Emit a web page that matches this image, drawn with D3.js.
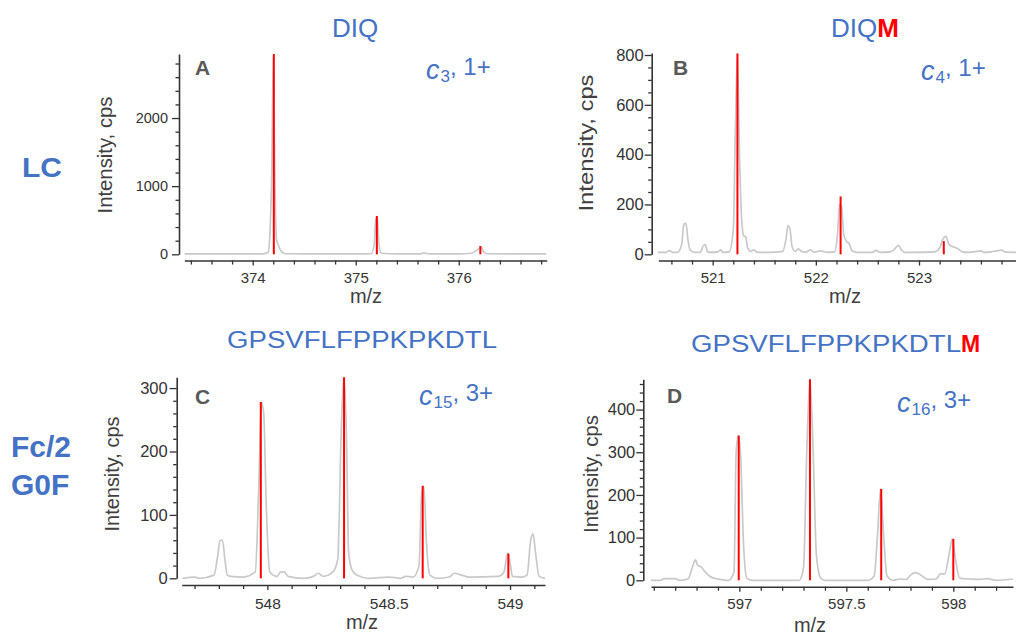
<!DOCTYPE html>
<html><head><meta charset="utf-8">
<script src="https://cdn.jsdelivr.net/npm/d3@7"></script>
<style>
body{margin:0;background:#fff}
svg{display:block}
text{font-family:"Liberation Sans",Arial,Helvetica,sans-serif}
</style>
</head><body>
<svg id="chart" width="1016" height="635"></svg>
<script>
// ---------- data (m/z, intensity) ----------
const profileA = [[373.34,5],[373.6,5],[373.9,5],[374.1,6],[374.15,30],[374.17,400],[374.185,1200],[374.2,2900],[374.215,1200],[374.23,220],[374.25,130],[374.28,40],[374.32,8],[374.6,5],[375.0,5],[375.15,8],[375.18,150],[375.195,520],[375.21,540],[375.225,150],[375.25,15],[375.4,5],[375.63,6],[375.66,22],[375.7,8],[376.0,5],[376.12,15],[376.16,45],[376.2,85],[376.22,100],[376.24,40],[376.28,8],[376.5,5],[376.85,5]];
const sticksA = [[374.205,2940],[375.205,563],[376.21,122]];

const profileB = [[520.47,8],[520.55,8],[520.58,15],[520.61,8],[520.66,8],[520.7,40],[520.72,120],[520.74,125],[520.76,60],[520.78,18],[520.82,8],[520.88,8],[520.91,35],[520.93,38],[520.95,10],[521.0,8],[521.05,10],[521.08,18],[521.1,8],[521.16,10],[521.2,100],[521.22,500],[521.24,800],[521.26,400],[521.28,150],[521.3,75],[521.32,70],[521.34,25],[521.37,12],[521.4,18],[521.43,8],[521.55,8],[521.68,12],[521.71,60],[521.73,115],[521.75,100],[521.77,30],[521.8,12],[521.83,22],[521.86,12],[521.9,8],[521.95,18],[521.98,8],[522.05,14],[522.1,8],[522.18,10],[522.21,80],[522.23,200],[522.25,190],[522.27,80],[522.3,50],[522.32,45],[522.35,14],[522.4,8],[522.55,8],[522.58,16],[522.62,8],[522.72,10],[522.76,20],[522.8,36],[522.83,18],[522.86,8],[522.95,8],[523.15,10],[523.2,25],[523.23,60],[523.26,73],[523.29,40],[523.33,30],[523.37,24],[523.42,10],[523.48,8],[523.6,14],[523.63,8],[523.7,10],[523.75,14],[523.8,17],[523.83,10],[523.94,8]];
const sticksB = [[521.24,806],[522.24,232],[523.24,53]];

const profileC = [[547.65,0],[547.7,2],[547.72,0],[547.78,5],[547.795,35],[547.805,60],[547.815,60],[547.825,30],[547.835,5],[547.85,3],[547.9,2],[547.95,10],[547.965,150],[547.975,278],[547.985,260],[547.995,120],[548.01,10],[548.04,3],[548.055,10],[548.07,10],[548.085,3],[548.15,0],[548.19,3],[548.21,8],[548.23,3],[548.27,10],[548.29,30],[548.305,240],[548.315,317],[548.325,240],[548.335,40],[548.35,12],[548.37,5],[548.42,0],[548.5,2],[548.55,0],[548.57,3],[548.6,2],[548.625,20],[548.635,130],[548.645,145],[548.655,60],[548.67,5],[548.7,0],[548.75,2],[548.77,8],[548.8,5],[548.83,2],[548.95,3],[548.975,10],[548.99,40],[549.0,25],[549.01,3],[549.05,2],[549.07,5],[549.085,60],[549.095,70],[549.105,40],[549.12,3],[549.144,0]];
const sticksC = [[547.973,278],[548.316,317],[548.64,146],[548.993,39]];

const profileD = [[596.587,0],[596.63,0],[596.65,4],[596.7,4],[596.72,0],[596.76,3],[596.78,30],[596.795,48],[596.805,35],[596.82,32],[596.84,20],[596.86,10],[596.88,5],[596.9,3],[596.95,0],[596.975,20],[596.985,300],[596.995,339],[597.005,300],[597.02,80],[597.035,5],[597.06,0],[597.28,0],[597.3,30],[597.315,300],[597.33,471],[597.345,300],[597.36,60],[597.38,5],[597.4,0],[597.6,0],[597.63,10],[597.645,100],[597.66,214],[597.675,100],[597.69,10],[597.72,0],[597.75,3],[597.78,2],[597.8,12],[597.82,18],[597.84,15],[597.86,8],[597.88,2],[597.92,3],[597.94,15],[597.96,15],[597.98,60],[597.995,97],[598.01,50],[598.03,5],[598.08,3],[598.12,2],[598.16,4],[598.2,0],[598.279,3]];
const sticksD = [[596.997,339],[597.33,471],[597.663,214],[598.0,97]];

const xTicksA = [374,375,376], yTicksA = [0,1000,2000];
const xTicksB = [521,522,523], yTicksB = [0,200,400,600,800];
const xTicksC = [548,548.5,549], yTicksC = [0,100,200,300];
const xTicksD = [597,597.5,598], yTicksD = [0,100,200,300,400];

const panelLetters = ["A","B","C","D"];
const ionLabels = [["c","3",", 1+"],["c","4",", 1+"],["c","15",", 3+"],["c","16",", 3+"]];

// ---------- layout ----------
const BLUE = "#4472C4", RED = "#FF0000", AX = "#333333";
const svg = d3.select("#chart");

const panels = [
 {profile:profileA, sticks:sticksA, xT:xTicksA, yT:yTicksA, xDom:[373.336,376.854], yDom:[0,2940],
  xR:[184.3,546.7], yR:[254.3,54], yAxisX:179, xAxisY:260.5, xMinor:0.2, yMinor:200, yPad:4, yFs:14.5, xFs:15, xPad:7,
  letter:[195,75], ion:[426,75], ylab:[112,155,117], xlab:[366,303]},
 {profile:profileB, sticks:sticksB, xT:xTicksB, yT:yTicksB, xDom:[520.473,523.94], yDom:[0,808],
  xR:[658.3,1016], yR:[254.3,53], yAxisX:651.7, xAxisY:260.5, xMinor:0.2, yMinor:50, yPad:1, yFs:16.5, xFs:15, xPad:7,
  letter:[673,75], ion:[921,76], ylab:[593,143,137], xlab:[845,303]},
 {profile:profileC, sticks:sticksC, xT:xTicksC, yT:yTicksC, xDom:[547.647,549.144], yDom:[0,317],
  xR:[181.7,545], yR:[578.3,377.3], yAxisX:176.7, xAxisY:585, xMinor:0.1, yMinor:20, yPad:2, yFs:16.5, xFs:15.5, xPad:8,
  letter:[195,404], ion:[419,401], ylab:[119,474,115], xlab:[362,629]},
 {profile:profileD, sticks:sticksD, xT:xTicksD, yT:yTicksD, xDom:[596.587,598.279], yDom:[0,471],
  xR:[651,1013], yR:[580.3,379.3], yAxisX:643.3, xAxisY:586.7, xMinor:0.1, yMinor:20, yPad:1, yFs:16.5, xFs:15, xPad:7,
  letter:[667,403], ion:[897,408], ylab:[598,474,118], xlab:[810,632]}
];

function minorVals(d0, d1, step, majors){
  const out = [];
  const start = Math.ceil(d0/step - 1e-9);
  for (let k = start; k*step <= d1 + 1e-9; k++){
    const v = +(k*step).toFixed(6);
    if (!majors.some(m => Math.abs(m - v) < 1e-6)) out.push(v);
  }
  return out;
}

panels.forEach((p, i) => {
  const x = d3.scaleLinear().domain(p.xDom).range(p.xR);
  const y = d3.scaleLinear().domain(p.yDom).range(p.yR);
  const g = svg.append("g");

  // profile
  const line = d3.line().x(d => x(d[0])).y(d => y(d[1])).curve(d3.curveMonotoneX);
  g.append("path").datum(p.profile).attr("d", line)
    .attr("fill","none").attr("stroke","#C9C9C9").attr("stroke-width",1.7);

  // sticks
  g.selectAll("line.stick").data(p.sticks).join("line").attr("class","stick")
    .attr("x1", d => x(d[0])).attr("x2", d => x(d[0]))
    .attr("y1", y(0)).attr("y2", d => y(d[1]))
    .attr("stroke", RED).attr("stroke-width", 2);

  // x axis
  const xg = g.append("g").attr("transform", `translate(0,${p.xAxisY})`);
  xg.call(d3.axisBottom(x).tickValues(minorVals(p.xDom[0], p.xDom[1], p.xMinor, p.xT)).tickSize(4).tickFormat("").tickSizeOuter(0));
  xg.call(g2 => g2.select(".domain").remove());
  const xg2 = g.append("g").attr("transform", `translate(0,${p.xAxisY})`);
  xg2.call(d3.axisBottom(x).tickValues(p.xT).tickSize(5).tickSizeOuter(0).tickPadding(p.xPad).tickFormat(d => String(d)));
  [xg, xg2].forEach(a => {
    a.selectAll("line").attr("stroke", AX).attr("stroke-width", 1.3);
    a.selectAll(".domain").attr("stroke", AX).attr("stroke-width", 1.6);
    a.selectAll("text").attr("fill", AX).attr("font-size", p.xFs)
      .attr("font-family", '"Liberation Sans",Arial,sans-serif');
  });

  // y axis
  const yg = g.append("g").attr("transform", `translate(${p.yAxisX},0)`);
  yg.call(d3.axisLeft(y).tickValues(minorVals(p.yDom[0], p.yDom[1], p.yMinor, p.yT)).tickSize(3.5).tickFormat("").tickSizeOuter(0));
  yg.call(g2 => g2.select(".domain").remove());
  const yg2 = g.append("g").attr("transform", `translate(${p.yAxisX},0)`);
  yg2.call(d3.axisLeft(y).tickValues(p.yT).tickSize(7).tickSizeOuter(0).tickPadding(p.yPad).tickFormat(d3.format("d")));
  [yg, yg2].forEach(a => {
    a.selectAll("line").attr("stroke", AX).attr("stroke-width", 1.3);
    a.selectAll(".domain").attr("stroke", AX).attr("stroke-width", 1.6);
    a.selectAll("text").attr("fill", AX).attr("font-size", p.yFs)
      .attr("font-family", '"Liberation Sans",Arial,sans-serif');
  });

  // axis titles
  g.append("text").attr("transform", `translate(${p.ylab[0]},${p.ylab[1]}) rotate(-90)`)
    .attr("text-anchor","middle").attr("font-size", 20).attr("fill", "#404040")
    .attr("textLength", p.ylab[2]).attr("lengthAdjust","spacingAndGlyphs")
    .text("Intensity, cps");
  g.append("text").attr("x", p.xlab[0]).attr("y", p.xlab[1])
    .attr("text-anchor","middle").attr("font-size", 20).attr("fill", "#404040")
    .text("m/z");

  // panel letter
  g.append("text").attr("x", p.letter[0]).attr("y", p.letter[1])
    .attr("font-size", 21).attr("font-weight","bold").attr("fill", "#595959")
    .text(panelLetters[i]);

  // ion label
  const t = g.append("text").attr("x", p.ion[0]).attr("y", p.ion[1]).attr("fill", BLUE);
  t.append("tspan").attr("font-style","italic").attr("font-size", 27).attr("dy", 4).text(ionLabels[i][0]);
  t.append("tspan").attr("font-size", 17).attr("dy", 3).attr("dx", 1).text(ionLabels[i][1]);
  t.append("tspan").attr("font-size", 24).attr("dy", -7).text(ionLabels[i][2]);
});

// titles
svg.append("text").attr("x", 355).attr("y", 37).attr("text-anchor","middle")
  .attr("font-size", 26).attr("fill", BLUE).text("DIQ");
const t2 = svg.append("text").attr("x", 831).attr("y", 37).attr("font-size", 26);
t2.append("tspan").attr("fill", BLUE).text("DIQ");
t2.append("tspan").attr("fill", RED).attr("font-weight","bold").text("M");

svg.append("text").attr("x", 227).attr("y", 348).attr("font-size", 23).attr("fill", BLUE)
  .attr("textLength", 270).attr("lengthAdjust","spacingAndGlyphs").text("GPSVFLFPPKPKDTL");
const t4 = svg.append("text").attr("x", 691).attr("y", 352).attr("font-size", 23);
t4.append("tspan").attr("fill", BLUE).attr("textLength", 270).attr("lengthAdjust","spacingAndGlyphs").text("GPSVFLFPPKPKDTL");
t4.append("tspan").attr("fill", RED).attr("font-weight","bold").text("M");

// row labels
svg.append("text").attr("x", 22).attr("y", 177).attr("font-size", 27).attr("font-weight","bold")
  .attr("fill", BLUE).attr("textLength", 40).attr("lengthAdjust","spacingAndGlyphs").text("LC");
svg.append("text").attr("x", 11).attr("y", 457).attr("font-size", 30).attr("font-weight","bold")
  .attr("fill", BLUE).text("Fc/2");
svg.append("text").attr("x", 11).attr("y", 495).attr("font-size", 30).attr("font-weight","bold")
  .attr("fill", BLUE).text("G0F");
</script>
</body></html>
